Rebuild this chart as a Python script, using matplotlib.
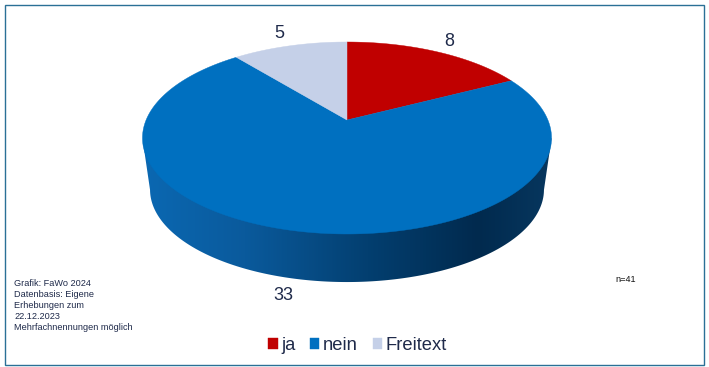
import numpy as np
import matplotlib
matplotlib.use("Agg")
import matplotlib.pyplot as plt
from matplotlib.colors import LinearSegmentedColormap
from matplotlib.patches import Polygon, Rectangle

labels = ["ja", "nein", "Freitext"]
values = [8, 33, 5]
colors = ["#C00000", "#0070C0", "#C5D0E8"]
label_pos = [(449, 42), (283, 296), (279, 33)]

note_lines = ["Grafik: FaWo 2024", "Datenbasis: Eigene", "Erhebungen zum",
              "22.12.2023", "Mehrfachnennungen möglich"]
n_text = "n=41"

TEXT = "#1F2A4A"
FRAME = "#2A7096"

# perspective disk, in pixels of the picture
CX, CY = 347, 120
RADIUS = 200.9
TILT = 0.1875
SQUASH = 70.125


def top_xy(angle):
    # angle in radians, clockwise from 12 o'clock
    u, v = np.sin(angle), np.cos(angle)
    d = 1 + TILT * v
    return CX + RADIUS * u / d, (CY - SQUASH * v) / d


def bottom_xy(angle):
    x, y = top_xy(angle)
    return CX + (x - CX) * 0.963, y * 0.963 + 56.7


plt.rcParams["font.family"] = ["Liberation Sans", "DejaVu Sans"]

fig = plt.figure(figsize=(7.09, 3.67), dpi=100)
ax = fig.add_axes([0, 0, 1, 1])
ax.set_xlim(0, 709)
ax.set_ylim(367, 0)
ax.axis("off")

ax.add_patch(Rectangle((4.5, 4.5), 699.5, 360, fill=False, ec=FRAME, lw=1.0))

# side wall, horizontal gradient clipped to the outline
a = np.linspace(0, 2 * np.pi, 721)
x_top, y_top = top_xy(a)
left_i, right_i = np.argmin(x_top), np.argmax(x_top)
low = np.linspace(a[left_i], a[right_i], 300)
x_low, y_low = bottom_xy(low)
side_pts = np.vstack([[x_top[left_i], y_top[left_i]],
                      np.column_stack([x_low, y_low]),
                      [x_top[right_i], y_top[right_i]]])
side = Polygon(side_pts, closed=True, fc="none", ec="none")
ax.add_patch(side)
side_cmap = LinearSegmentedColormap.from_list(
    "side", [(0, "#0B68B2"), (0.25, "#0A5A9C"), (0.55, "#033F70"),
             (0.82, "#012A4E"), (1, "#07375F")])
img = ax.imshow(np.linspace(0, 1, 256).reshape(1, -1), cmap=side_cmap,
                extent=(143, 552, 300, 130), aspect="auto", zorder=1)
img.set_clip_path(side)
ax.set_xlim(0, 709)
ax.set_ylim(367, 0)

# top surface slices
start = 0.0
total = sum(values)
handles = []
for val, col in zip(values, colors):
    stop = start + val / total * 2 * np.pi
    t = np.linspace(start, stop, 200)
    x, y = top_xy(t)
    pts = np.vstack([[CX, CY], np.column_stack([x, y])])
    p = Polygon(pts, closed=True, fc=col, ec=col, lw=0.3, zorder=2)
    ax.add_patch(p)
    handles.append(p)
    start = stop

for val, (lx, ly) in zip(values, label_pos):
    ax.text(lx, ly, str(val), fontsize=13, color=TEXT, ha="center", va="center")

for i, line in enumerate(note_lines):
    ax.text(14, 283 + i * 11.1, line, fontsize=6.6, color=TEXT, va="center")
ax.text(615, 280, n_text, fontsize=6.6, color="#111111", va="center")

ax.legend(handles, labels, loc="center", bbox_to_anchor=(357.5 / 709, 1 - 345.5 / 367),
          ncols=3, frameon=False, fontsize=13.2, labelcolor=TEXT,
          handlelength=0.5, handleheight=0.5, handletextpad=0.2,
          columnspacing=0.8, borderpad=0, borderaxespad=0)

fig.savefig("out.png", dpi=100)
plt.close(fig)
